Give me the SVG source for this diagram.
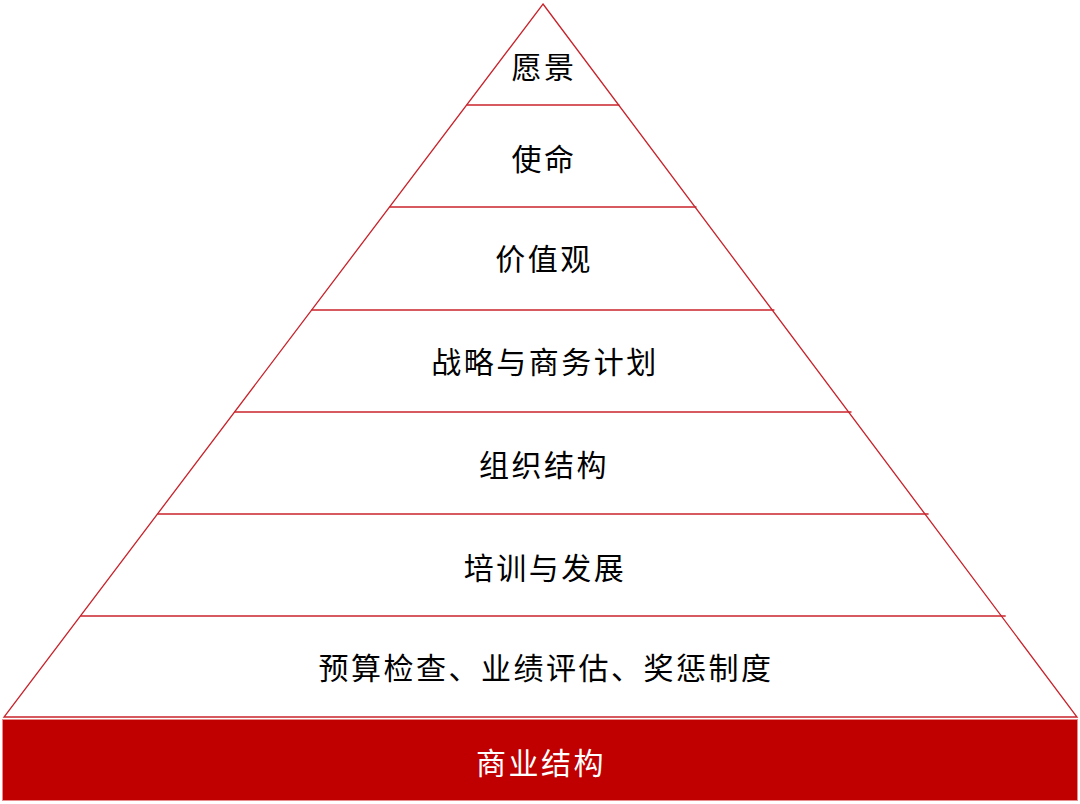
<svg xmlns="http://www.w3.org/2000/svg" width="1080" height="804" viewBox="0 0 1080 804">
<style>
.edge{stroke:#C8232B;stroke-width:1.3;fill:none}
.lbl{font-family:"Noto Sans CJK SC","Noto Sans CJK JP",sans-serif;font-size:30px;letter-spacing:2.5px;fill:#000;text-anchor:middle;dominant-baseline:central}
.w{fill:#fff}
</style>
<rect width="1080" height="804" fill="#fff"/>
<g id="connectors">
<polygon class="edge" points="543,4 1077,717 4,717"/>
<line class="edge" x1="466.6" y1="105" x2="619.4" y2="105"/>
<line class="edge" x1="389.5" y1="207" x2="696.5" y2="207"/>
<line class="edge" x1="311.6" y1="310" x2="774.4" y2="310"/>
<line class="edge" x1="234.5" y1="412" x2="851.5" y2="412"/>
<line class="edge" x1="157.4" y1="514" x2="928.6" y2="514"/>
<line class="edge" x1="80.3" y1="616" x2="1005.7" y2="616"/>
</g>
<g id="n1"><text class="lbl" x="544" y="65">愿景</text></g>
<g id="n2"><text class="lbl" x="544" y="157">使命</text></g>
<g id="n3"><text class="lbl" x="544" y="257">价值观</text></g>
<g id="n4"><text class="lbl" x="545" y="360">战略与商务计划</text></g>
<g id="n5"><text class="lbl" x="544" y="463">组织结构</text></g>
<g id="n6"><text class="lbl" x="545" y="566">培训与发展</text></g>
<g id="n7"><text class="lbl" x="546" y="666">预算检查、业绩评估、奖惩制度</text></g>
<g id="n8">
<rect x="2.5" y="719.5" width="1075" height="81" fill="#C00000" stroke="#E8898C" stroke-width="1"/>
<text class="lbl w" x="541" y="761">商业结构</text>
</g>
</svg>
